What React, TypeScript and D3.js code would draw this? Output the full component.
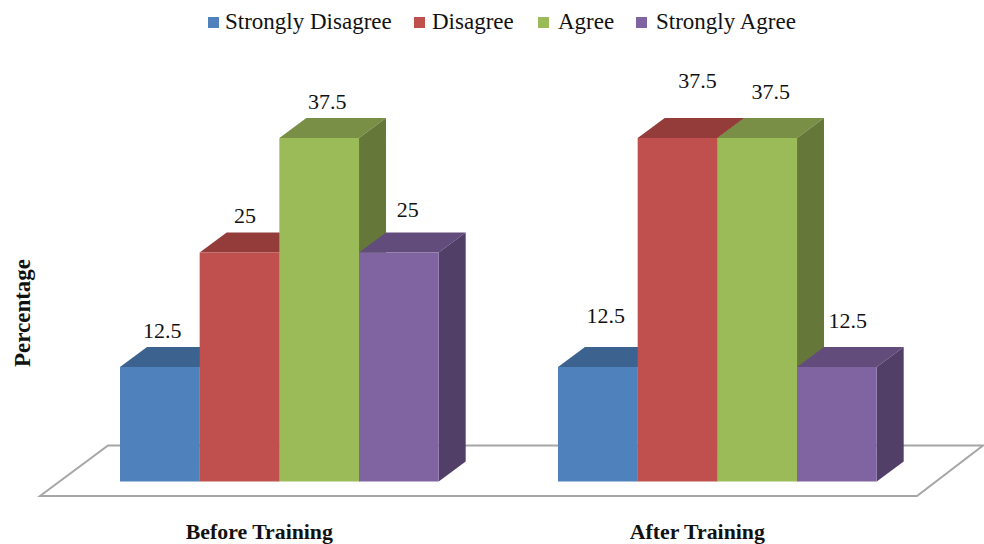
import React from "react";
import * as d3 from "d3";

const categories = ["Before Training", "After Training"];
const seriesNames = ["Strongly Disagree", "Disagree", "Agree", "Strongly Agree"];
const beforeValues = [12.5, 25, 37.5, 25];
const afterValues = [12.5, 37.5, 37.5, 12.5];
const valueTable = [beforeValues, afterValues];
const frontColors = ["#4F81BD", "#C0504D", "#9BBB59", "#8064A2"];
const topColors = ["#3C6290", "#943C3A", "#788F45", "#624C7C"];
const sideColors = ["#324F73", "#7A3230", "#65783A", "#523F68"];

// Hand-placed data labels: offset from the bar centre / bar top
const labelOffsets = [
  [[2.5, -29.5], [5.5, -29.5], [8, -29], [9, -36]],
  [[8, -44], [20, -50], [13.5, -39], [11, -39]],
];
const legendSwatchX = [208, 414, 538, 636];
const legendTextX = [225, 432, 558, 656];

const W = 984, H = 544;
const depthX = 27, depthY = -20;
const font = "'Liberation Serif', 'Times New Roman', serif";

const x0 = d3.scaleBand<string>().domain(categories).range([120, 876.7]).paddingInner(0.2724);
const x1 = d3.scaleBand<string>().domain(seriesNames).range([0, x0.bandwidth()]);
const y = d3.scaleLinear().domain([0, 37.5]).range([481.5, 138]);

const poly = (pts: [number, number][]) => (d3.line()(pts) ?? "") + "Z";

export default function App() {
  return (
    <svg width={W} height={H} viewBox={`0 0 ${W} ${H}`}
      style={{ position: "fixed", left: 0, top: 0, display: "block", background: "#fff" }}>
      <path d={poly([[40, 496], [108, 445.5], [983, 445.5], [917, 496]])}
        fill="#fff" stroke="#a6a6a6" strokeWidth={2} />
      {categories.map((c, ci) => (
        <g key={c}>
          {seriesNames.map((s, si) => {
            const v = valueTable[ci][si];
            const l = x0(c)! + x1(s)!;
            const r = l + x1.bandwidth();
            const t = y(v), b = y(0);
            return (
              <g key={s}>
                <path d={poly([[l, t], [l + depthX, t + depthY], [r + depthX, t + depthY], [r, t]])} fill={topColors[si]} />
                <path d={poly([[r, t], [r + depthX, t + depthY], [r + depthX, b + depthY], [r, b]])} fill={sideColors[si]} />
                <path d={poly([[l, t], [r, t], [r, b], [l, b]])} fill={frontColors[si]} />
              </g>
            );
          })}
          {seriesNames.map((s, si) => {
            const v = valueTable[ci][si];
            const [dx, dy] = labelOffsets[ci][si];
            return (
              <text key={s} x={x0(c)! + x1(s)! + x1.bandwidth() / 2 + dx} y={y(v) + dy}
                textAnchor="middle" fontFamily={font} fontSize={22} fill="#111">{v}</text>
            );
          })}
          <text x={x0(c)! + x0.bandwidth() / 2 - 20} y={539} textAnchor="middle"
            fontFamily={font} fontSize={21.8} fontWeight="bold" fill="#111">{c}</text>
        </g>
      ))}
      <text transform="translate(30,313) rotate(-90)" textAnchor="middle"
        fontFamily={font} fontSize={23} fontWeight="bold" fill="#111">Percentage</text>
      {seriesNames.map((s, i) => (
        <g key={s}>
          <rect x={legendSwatchX[i]} y={17} width={11} height={11} fill={frontColors[i]} />
          <text x={legendTextX[i]} y={29} fontFamily={font} fontSize={23} fill="#111">{s}</text>
        </g>
      ))}
    </svg>
  );
}
